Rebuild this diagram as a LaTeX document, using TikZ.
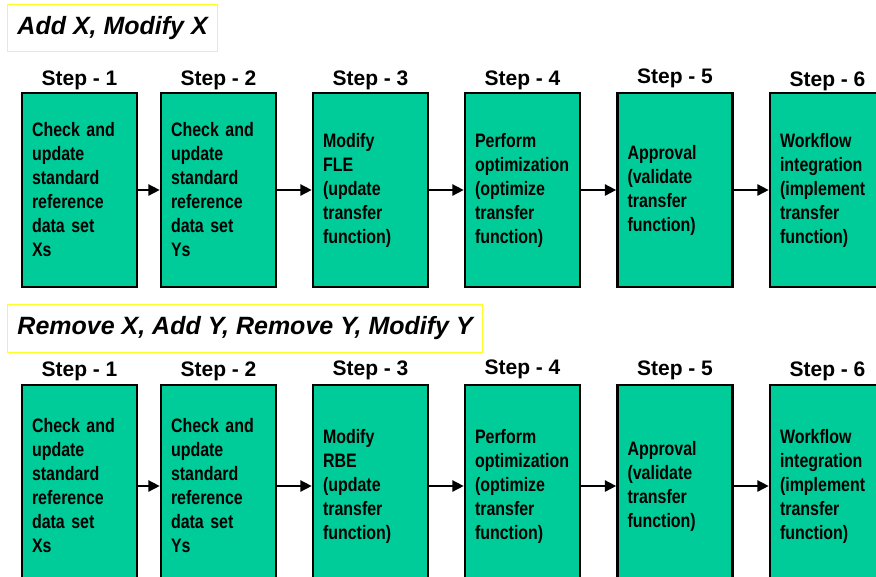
\documentclass[tikz,border=0pt]{standalone}
\usepackage{fontspec}
\setmainfont{Liberation Sans}
\newfontfamily\narrowsans{Liberation Sans}[FakeStretch=0.82]
\usetikzlibrary{arrows.meta}
\definecolor{stepgreen}{RGB}{0,204,153}
\definecolor{titleyellow}{RGB}{255,255,40}
\begin{document}
\begin{tikzpicture}[x=0.75pt, y=-0.75pt, ->, >={Triangle[length=8.5pt,width=8.5pt]}, line width=1.2pt,
  stepbox/.style={draw=black, line width=2pt, fill=stepgreen, minimum width=86.25pt, inner xsep=7.5pt, text width=71.25pt, align=left, font=\narrowsans\bfseries\fontsize{14.6}{18}\selectfont},
  toprow/.style={stepbox, minimum height=145.5pt},
  lowrow/.style={stepbox, minimum height=151.5pt},
  steplabel/.style={anchor=base, font=\bfseries\fontsize{15.75}{18}\selectfont},
  casetitle/.style={draw=titleyellow, line width=0.75pt, anchor=north west, inner xsep=7.5pt, font=\bfseries\itshape\fontsize{18.75}{22}\selectfont}]
\useasboundingbox (0,0) rectangle (876,576);
\clip (0,0) rectangle (876,576);
% Titles
\node [casetitle, minimum height=35.25pt] (caseA) at (7,4) {Add X, Modify X};
\node [casetitle, minimum height=36pt] (caseB) at (7,304) {Remove X, Add Y, Remove Y, Modify Y};
% ---
% Row A
% ---
\node [steplabel] (sA1) at (79.5,85) {Step - 1};
\node [steplabel] (sA2) at (218.5,85) {Step - 2};
\node [steplabel] (sA3) at (370.5,85) {Step - 3};
\node [steplabel] (sA4) at (522.5,85) {Step - 4};
\node [steplabel] (sA5) at (675,83) {Step - 5};
\node [steplabel] (sA6) at (827.5,86) {Step - 6};

\node [toprow] (A1) at (79.5,190) {Check and\\update\\standard\\reference\\data set\\Xs};
\node [toprow] (A2) at (218.5,190) {Check and\\update\\standard\\reference\\data set\\Ys};
\node [toprow] (A3) at (370.5,190) {Modify\\FLE\\(update\\transfer\\function)};
\node [toprow] (A4) at (522.5,190) {Perform\\optimization\\(optimize\\transfer\\function)};
\node [toprow] (A5) at (675,190) {Approval\\(validate\\transfer\\function)};
\node [toprow] (A6) at (827.5,190) {Workflow\\integration\\(implement\\transfer\\function)};

\draw (A1) -- (A2);
\draw (A2) -- (A3);
\draw (A3) -- (A4);
\draw (A4) -- (A5);
\draw (A5) -- (A6);
% ---
% Row B
% ---
\node [steplabel] (sB1) at (79.5,376) {Step - 1};
\node [steplabel] (sB2) at (218.5,376) {Step - 2};
\node [steplabel] (sB3) at (370.5,375) {Step - 3};
\node [steplabel] (sB4) at (522.5,374) {Step - 4};
\node [steplabel] (sB5) at (675,375) {Step - 5};
\node [steplabel] (sB6) at (827.5,376) {Step - 6};

\node [lowrow] (B1) at (79.5,486) {Check and\\update\\standard\\reference\\data set\\Xs};
\node [lowrow] (B2) at (218.5,486) {Check and\\update\\standard\\reference\\data set\\Ys};
\node [lowrow] (B3) at (370.5,486) {Modify\\RBE\\(update\\transfer\\function)};
\node [lowrow] (B4) at (522.5,486) {Perform\\optimization\\(optimize\\transfer\\function)};
\node [lowrow] (B5) at (675,486) {Approval\\(validate\\transfer\\function)};
\node [lowrow] (B6) at (827.5,486) {Workflow\\integration\\(implement\\transfer\\function)};

\draw (B1) -- (B2);
\draw (B2) -- (B3);
\draw (B3) -- (B4);
\draw (B4) -- (B5);
\draw (B5) -- (B6);
\end{tikzpicture}
\end{document}
